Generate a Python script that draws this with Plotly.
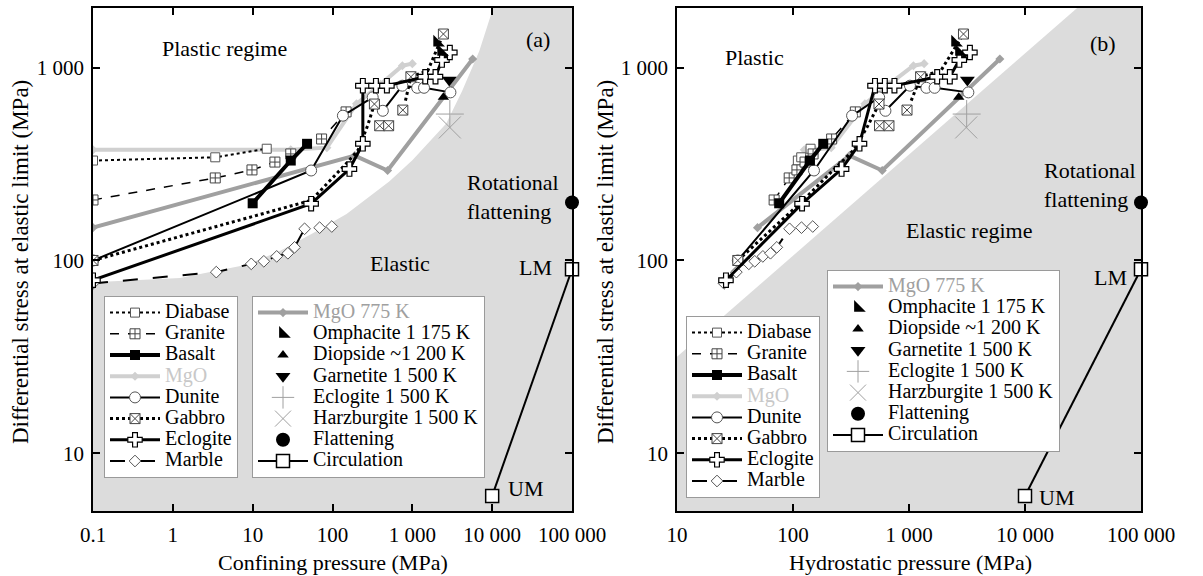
import plotly.graph_objects as go

FONT = "Liberation Serif"

# ---------------- data: confining pressure (MPa) and differential stress at elastic limit (MPa)
diabase_p = [0.1, 3.4, 15]
diabase_s = [330, 343, 380]

granite_p = [0.1, 3.4, 9.8, 19, 30, 73, 148]
granite_s = [206, 268, 295, 324, 357, 427, 590]

basalt_p = [10, 30, 48]
basalt_s = [198, 330, 403]

mgo_p = [0.1, 30, 85, 200, 400, 750, 1000]
mgo_s = [375, 375, 385, 650, 820, 1025, 1050]

dunite_p = [0.1, 54, 135, 319, 427, 750, 1150, 1400, 3000]
dunite_s = [100, 293, 564, 702, 598, 807, 787, 787, 745]

gabbro_path_p = [0.1, 54, 117, 156, 210, 275, 335, None, 820, 960, 1560, 1780, 2450]
gabbro_path_s = [100, 205, 287, 325, 375, 500, 648, None, 675, 898, 965, 1100, 1496]
gabbro_p = [0.1, 335, 390, 505, 760, 960, 2450]
gabbro_s = [100, 648, 500, 500, 603, 898, 1496]

eclogite_p = [0.1, 54, 163, 240, 240, 350, 480, 1450, 1950, 2350, 2950]
eclogite_s = [79, 197, 298, 403, 807, 807, 807, 898, 898, 1096, 1200]

marble_p = [0.1, 3.5, 9.6, 13.8, 20, 27.6, 33.5, 44.7, 69, 98]
marble_s = [76, 87, 96, 99, 105, 109, 117, 146, 148, 150]

mgo775_p = [0.1, 190, 490, 5700]
mgo775_s = [148, 350, 293, 1110]

omphacite_p = [2050, 2300]
omphacite_s = [1350, 1210]
diopside_p = [2450]
diopside_s = [702]
garnetite_p = [2900]
garnetite_s = [863]
ecl1500_p = [2950]
ecl1500_s = [575]
harz_p = [2950]
harz_s = [490]
flat_p = [100000]
flat_s = [200]
circ_p = [10000, 100000]
circ_s = [6, 90]

# elastic-regime boundaries
elastic_a_p = [0.1, 1.23, 8.4, 21.9, 56, 150, 513, 1000, 2660, 4220, 6920, 10000]
elastic_a_s = [77, 81, 95, 112, 138, 174, 257, 331, 513, 759, 1225, 1972]
elastic_b_p = [10, 27000]
elastic_b_s = [31.6, 2000]

xa_ticks = [0.1, 1, 10, 100, 1000, 10000, 100000]
xa_text = ["0.1", "1", "10", "100", "1 000", "10 000", "100 000"]
xb_ticks = [10, 100, 1000, 10000, 100000]
xb_text = ["10", "100", "1 000", "10 000", "100 000"]
y_ticks = [10, 100, 1000]
y_text = ["10", "100", "1 000"]

W, H = 1203, 576


def fx(px):
    return px / W


def fy(py):
    return 1 - py / H


def hydro(p, s):
    return [None if a is None else a + b / 3.0 for a, b in zip(p, s)]


def conf(p, s):
    return list(p)


LG = "#d0d0d0"
MG = "#a0a0a0"

styles = {
    "diabase": dict(line=dict(color="black", width=2, dash="dot"),
                    marker=dict(symbol="square", size=9, color="white", line=dict(color="#555", width=1))),
    "granite": dict(line=dict(color="black", width=1.5, dash="dash"),
                    marker=dict(symbol="square-cross", size=10, color="white", line=dict(color="#444", width=1))),
    "basalt": dict(line=dict(color="black", width=4),
                   marker=dict(symbol="square", size=10, color="black")),
    "mgo": dict(line=dict(color=LG, width=4),
                marker=dict(symbol="diamond", size=7, color=LG)),
    "dunite": dict(line=dict(color="black", width=2),
                   marker=dict(symbol="circle", size=11, color="white", line=dict(color="#555", width=1))),
    "gabbro": dict(line=dict(color="black", width=3, dash="dot"),
                   marker=dict(symbol="square-x", size=10, color="white", line=dict(color="#444", width=1))),
    "eclogite": dict(line=dict(color="black", width=3),
                     marker=dict(symbol="cross", size=12, color="white", line=dict(color="black", width=1.2))),
    "marble": dict(line=dict(color="black", width=2, dash="longdash"),
                   marker=dict(symbol="diamond", size=9, color="white", line=dict(color="#555", width=1))),
    "mgo775": dict(line=dict(color=MG, width=4),
                   marker=dict(symbol="diamond", size=7, color=MG)),
    "omphacite": dict(marker=dict(symbol="triangle-sw", size=13, color="black")),
    "diopside": dict(marker=dict(symbol="triangle-up", size=10, color="black")),
    "garnetite": dict(marker=dict(symbol="triangle-down", size=13, color="black")),
    "ecl1500": dict(marker=dict(symbol="cross-thin", size=20, color=MG, line=dict(color=MG, width=1))),
    "harz": dict(marker=dict(symbol="x-thin", size=22, color=MG, line=dict(color=MG, width=1))),
    "flat": dict(marker=dict(symbol="circle", size=14, color="black")),
    "circ": dict(line=dict(color="black", width=2),
                 marker=dict(symbol="square", size=13, color="white", line=dict(color="black", width=1.5))),
}


def lg_name(text, color="black"):
    return '<span style="font-size:20px;color:%s">%s</span>' % (color, text)


legend_left = [
    ("Diabase", "black", "diabase", "lines+markers"),
    ("Granite", "black", "granite", "lines+markers"),
    ("Basalt", "black", "basalt", "lines+markers"),
    ("MgO", "#c8c8c8", "mgo", "lines+markers"),
    ("Dunite", "black", "dunite", "lines+markers"),
    ("Gabbro", "black", "gabbro", "lines+markers"),
    ("Eclogite", "black", "eclogite", "lines+markers"),
    ("Marble", "black", "marble", "lines+markers"),
]
legend_right = [
    ("MgO 775 K", "#a0a0a0", "mgo775", "lines+markers"),
    ("Omphacite 1 175 K", "black", "omphacite", "markers"),
    ("Diopside ~1 200 K", "black", "diopside", "markers"),
    ("Garnetite 1 500 K", "black", "garnetite", "markers"),
    ("Eclogite 1 500 K", "black", "ecl1500", "markers"),
    ("Harzburgite 1 500 K", "black", "harz", "markers"),
    ("Flattening", "black", "flat", "markers"),
    ("Circulation", "black", "circ", "lines+markers"),
]

fig = go.Figure()


def add(x, y, xa, ya, mode, key, **kw):
    st = styles[key]
    args = dict(x=x, y=y, xaxis=xa, yaxis=ya, mode=mode, showlegend=False, hoverinfo="skip")
    if "line" in st and "lines" in mode:
        args["line"] = st["line"]
    if "marker" in st and "markers" in mode:
        args["marker"] = st["marker"]
    args.update(kw)
    fig.add_trace(go.Scatter(**args))


panels = [("x", "y", conf, "legend", "legend2"), ("x2", "y2", hydro, "legend3", "legend4")]

for xa, ya, f, lgl, lgr in panels:
    # elastic regime shading
    if xa == "x":
        sx = elastic_a_p + [13000, 1e6, 1e6, 0.05, 0.05]
        sy = elastic_a_s + [4000, 4000, 1, 1, 77]
    else:
        sx = [1, elastic_b_p[0], elastic_b_p[1], 1e6, 1e6, 1]
        sy = [9.44, elastic_b_s[0], elastic_b_s[1], 13300, 0.1, 0.1]
    fig.add_trace(go.Scatter(x=sx, y=sy, xaxis=xa, yaxis=ya, mode="lines", fill="toself",
                             fillcolor="#dcdcdc", line=dict(width=0, color="#dcdcdc"),
                             showlegend=False, hoverinfo="skip"))

    add(f(mgo_p, mgo_s), mgo_s, xa, ya, "lines+markers", "mgo")
    add(f(mgo775_p, mgo775_s), mgo775_s, xa, ya, "lines+markers", "mgo775")
    add(f(diabase_p, diabase_s), diabase_s, xa, ya, "lines+markers", "diabase")
    add(f(granite_p, granite_s), granite_s, xa, ya, "lines+markers", "granite")
    add(f(marble_p[:8], marble_s[:8]), marble_s[:8], xa, ya, "lines", "marble")
    add(f(marble_p, marble_s), marble_s, xa, ya, "markers", "marble")
    add(f(gabbro_path_p, gabbro_path_s), gabbro_path_s, xa, ya, "lines", "gabbro")
    add(f(dunite_p, dunite_s), dunite_s, xa, ya, "lines+markers", "dunite")
    add(f(gabbro_p, gabbro_s), gabbro_s, xa, ya, "markers", "gabbro")
    add(f(eclogite_p, eclogite_s), eclogite_s, xa, ya, "lines+markers", "eclogite")
    add(f(basalt_p, basalt_s), basalt_s, xa, ya, "lines+markers", "basalt")
    add(f(harz_p, harz_s), harz_s, xa, ya, "markers", "harz")
    add(f(ecl1500_p, ecl1500_s), ecl1500_s, xa, ya, "markers", "ecl1500")
    add(f(diopside_p, diopside_s), diopside_s, xa, ya, "markers", "diopside")
    add(f(garnetite_p, garnetite_s), garnetite_s, xa, ya, "markers", "garnetite")
    add(f(omphacite_p, omphacite_s), omphacite_s, xa, ya, "markers", "omphacite")
    # mantle circulation and flattening are plotted at their own pressures in both panels
    add(circ_p, circ_s, xa, ya, "lines+markers", "circ", cliponaxis=False)
    add(flat_p, flat_s, xa, ya, "markers", "flat", cliponaxis=False)

    # legend entries
    for lg, entries in ((lgl, legend_left), (lgr, legend_right)):
        for text, col, key, mode in entries:
            st = styles[key]
            args = dict(x=[None], y=[None], xaxis=xa, yaxis=ya, mode=mode, name=lg_name(text, col),
                        legend=lg, showlegend=True, hoverinfo="skip")
            if "line" in st and "lines" in mode:
                args["line"] = st["line"]
            if "marker" in st:
                args["marker"] = st["marker"]
            fig.add_trace(go.Scatter(**args))

axis_common = dict(type="log", showgrid=False, zeroline=False, showline=True, linecolor="black",
                   linewidth=1.5, mirror="ticks", ticks="inside", ticklen=7, tickwidth=1.5,
                   tickcolor="black", automargin=False, tickfont=dict(size=21, family=FONT))
ydom = [fy(511), fy(8)]

fig.update_layout(
    width=W, height=H,
    margin=dict(l=0, r=0, t=0, b=0),
    paper_bgcolor="white", plot_bgcolor="white",
    font=dict(family=FONT, size=21, color="black"),
    xaxis=dict(axis_common, domain=[fx(93), fx(572)], range=[-1, 5],
               tickvals=xa_ticks, ticktext=xa_text, anchor="y", ticklabelstandoff=4),
    yaxis=dict(axis_common, domain=ydom, range=[0.70, 3.31], tickvals=y_ticks, ticktext=y_text,
               anchor="x", ticklabelstandoff=3),
    xaxis2=dict(axis_common, domain=[fx(677), fx(1141)], range=[1, 5],
                tickvals=xb_ticks, ticktext=xb_text, anchor="y2", ticklabelstandoff=4),
    yaxis2=dict(axis_common, domain=ydom, range=[0.70, 3.31], tickvals=y_ticks, ticktext=y_text,
                anchor="x2", ticklabelstandoff=3),
)

legend_common = dict(xanchor="left", yanchor="top", bgcolor="white", bordercolor="#9a9a9a",
                     borderwidth=1, font=dict(size=14, family=FONT, color="black"),
                     itemwidth=50, traceorder="normal", tracegroupgap=0)
fig.update_layout(
    legend=dict(legend_common, x=fx(104), y=fy(296)),
    legend2=dict(legend_common, x=fx(252), y=fy(296)),
    legend3=dict(legend_common, x=fx(686), y=fy(316)),
    legend4=dict(legend_common, x=fx(827), y=fy(270)),
)

ann = [
    ("Plastic regime", 224, 48, "center", 0),
    ("Elastic", 400, 263, "center", 0),
    ("(a)", 538, 40, "center", 0),
    ("Rotational<br>flattening", 465, 197, "left", 0),
    ("LM", 535, 267, "center", 0),
    ("UM", 525, 488, "center", 0),
    ("Plastic", 754, 57, "center", 0),
    ("Elastic regime", 969, 230, "center", 0),
    ("(b)", 1103, 43, "center", 0),
    ("Rotational<br>flattening", 1042, 185, "left", 0),
    ("LM", 1110, 277, "center", 0),
    ("UM", 1056, 497, "center", 0),
    ("Confining pressure (MPa)", 333, 562, "center", 0),
    ("Hydrostatic pressure (MPa)", 910, 562, "center", 0),
    ("Differential stress at elastic limit (MPa)", 20, 262, "center", -90),
    ("Differential stress at elastic limit (MPa)", 605, 262, "center", -90),
]
for text, px, py, anc, ang in ann:
    fig.add_annotation(text=text, x=fx(px), y=fy(py), xref="paper", yref="paper",
                       xanchor=anc, yanchor="middle", align="left", showarrow=False,
                       textangle=ang, font=dict(size=22 if ang == 0 else 23, family=FONT, color="black"))

fig.write_html("out.html", config={"displayModeBar": False},
               post_script="document.body.style.margin='0px';document.body.style.overflow='hidden';")
